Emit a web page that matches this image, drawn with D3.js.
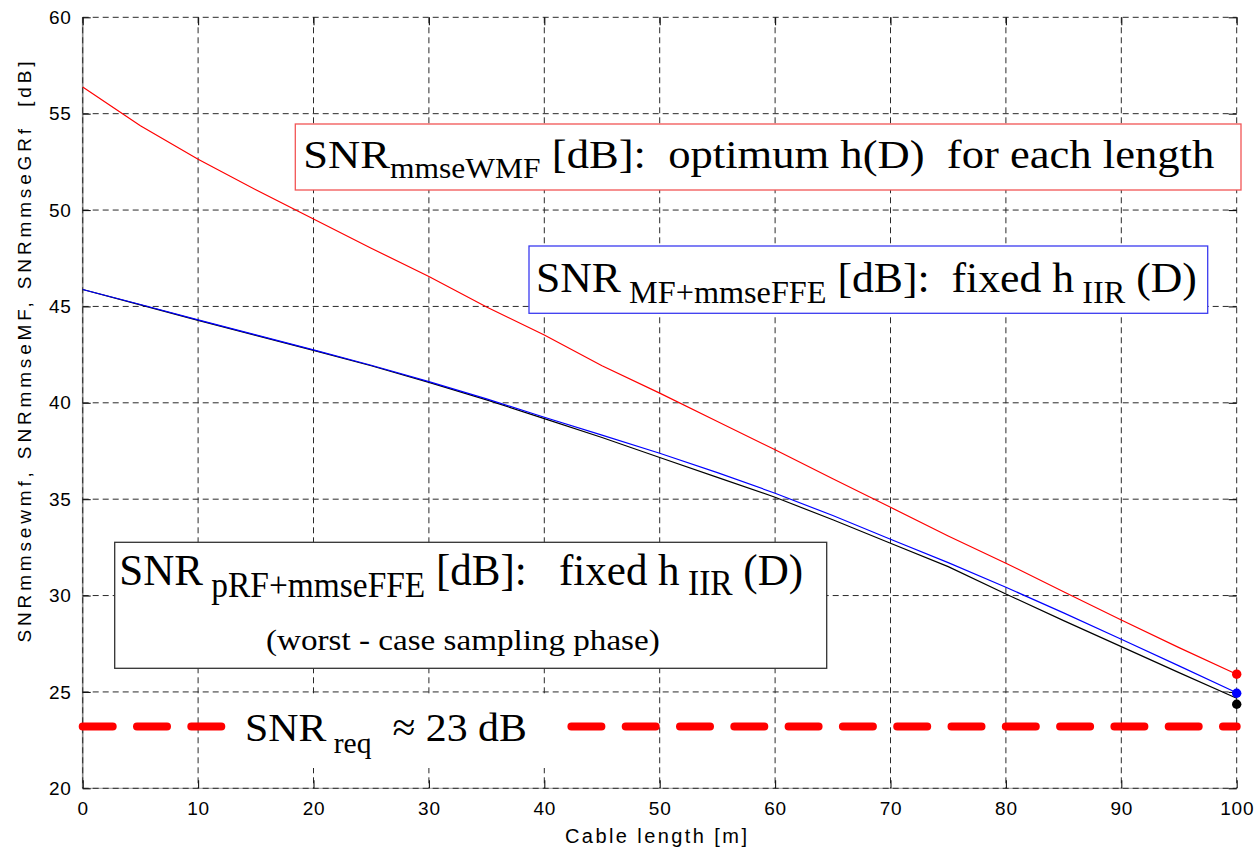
<!DOCTYPE html>
<html>
<head>
<meta charset="utf-8">
<script src="https://cdn.jsdelivr.net/npm/d3@7"></script>
<style>
  html, body { margin: 0; padding: 0; background: #fff; }
  svg { display: block; }
</style>
</head>
<body>
<svg id="chart" width="1255" height="850"></svg>
<script>
// ---------------- data ----------------
const cableLength = [0, 5, 10, 15, 20, 25, 30, 35, 40, 45, 50, 55, 60, 65, 70, 75, 80, 85, 90, 95, 100];
const snrMmseWMF  = [56.38, 54.37, 52.64, 51.05, 49.54, 48.02, 46.55, 44.97, 43.52, 41.92, 40.50, 39.03, 37.56, 36.06, 34.58, 33.09, 31.68, 30.20, 28.73, 27.30, 25.92];
const snrMfFFE    = [45.88, 45.10, 44.30, 43.52, 42.75, 41.95, 41.10, 40.20, 39.25, 38.32, 37.38, 36.38, 35.31, 34.15, 32.92, 31.71, 30.43, 29.10, 27.73, 26.35, 24.96];
const snrPrfFFE   = [45.88, 45.08, 44.28, 43.50, 42.72, 41.92, 41.06, 40.15, 39.18, 38.20, 37.16, 36.13, 35.10, 33.93, 32.71, 31.50, 30.08, 28.70, 27.35, 26.00, 24.67];
const endDotX     = [100, 100, 100];
const endDotY     = [25.92, 24.93, 24.36];
const seriesColors = ["#ff0000", "#0000ff", "#000000"];
const snrRequired = 23.2;
const xTicks = [0, 10, 20, 30, 40, 50, 60, 70, 80, 90, 100];
const yTicks = [20, 25, 30, 35, 40, 45, 50, 55, 60];
const xTitle = "Cable length [m]";
const yTitle = "SNRmmsewmf, SNRmmseMF, SNRmmseGRf  [dB]";

// ---------------- setup ----------------
const svg = d3.select("#chart");
const x = d3.scaleLinear().domain([0, 100]).range([82.7, 1236.7]);
const y = d3.scaleLinear().domain([20, 60]).range([788.3, 17.3]);
const sans = "'Liberation Sans', Arial, sans-serif";
const serif = "'Liberation Serif', 'Times New Roman', serif";

// left / bottom axis base lines
svg.append("line")
  .attr("x1", x(0)).attr("x2", x(0)).attr("y1", y(20)).attr("y2", y(60))
  .attr("stroke", "#8a8a8a").attr("stroke-width", 1.6);
svg.append("line")
  .attr("x1", x(0)).attr("x2", x(100)).attr("y1", y(20)).attr("y2", y(20))
  .attr("stroke", "#b0b0b0").attr("stroke-width", 1.2);

// grid
const grid = svg.append("g").attr("stroke", "#2a2a2a").attr("stroke-width", 1)
  .attr("stroke-dasharray", "6,4").attr("fill", "none");
grid.selectAll("line.v").data(xTicks).join("line").attr("class", "v")
  .attr("x1", d => x(d)).attr("x2", d => x(d)).attr("y1", y(60)).attr("y2", y(20));
grid.selectAll("line.h").data(yTicks).join("line").attr("class", "h")
  .attr("x1", x(0)).attr("x2", x(100)).attr("y1", d => y(d)).attr("y2", d => y(d));

// axes with inward ticks
function styleAxis(g) {
  g.select(".domain").remove();
  g.selectAll(".tick line").attr("stroke", "#111").attr("stroke-width", 1.1);
  g.selectAll("text").attr("font-family", sans).attr("font-size", 19).attr("fill", "#000")
    .attr("letter-spacing", 0.8);
}
svg.append("g").attr("transform", `translate(0,${y(20)})`)
  .call(d3.axisBottom(x).tickValues(xTicks).tickSize(-8).tickPadding(10))
  .call(styleAxis)
  .call(g => g.selectAll("text").attr("dy", null).attr("y", 26.7));
svg.append("g").attr("transform", `translate(${x(0)},0)`)
  .call(d3.axisLeft(y).tickValues(yTicks).tickSize(-8).tickPadding(11))
  .call(styleAxis);
svg.append("g").attr("transform", `translate(0,${y(60)})`)
  .call(d3.axisTop(x).tickValues(xTicks).tickSize(-8).tickFormat(""))
  .call(styleAxis);
svg.append("g").attr("transform", `translate(${x(100)},0)`)
  .call(d3.axisRight(y).tickValues(yTicks).tickSize(-8).tickFormat(""))
  .call(styleAxis);

// axis titles
svg.append("text").attr("x", 656).attr("y", 843.3).attr("text-anchor", "middle")
  .attr("font-family", sans).attr("font-size", 20)
  .attr("textLength", 182).attr("lengthAdjust", "spacing").text(xTitle);
svg.append("text").attr("transform", "translate(31,352) rotate(-90)").attr("text-anchor", "middle")
  .attr("font-family", sans).attr("font-size", 19).style("white-space", "pre")
  .attr("textLength", 581).attr("lengthAdjust", "spacing").text(yTitle);

// series lines
const series = [snrMmseWMF, snrMfFFE, snrPrfFFE];
const line = d3.line().x((d, i) => x(cableLength[i])).y(d => y(d));
svg.append("g").selectAll("path").data([series[2], series[1], series[0]]).join("path")
  .attr("d", line).attr("fill", "none")
  .attr("stroke", (d, i) => seriesColors[2 - i]).attr("stroke-width", 1.2);

// end dots
svg.append("g").selectAll("circle").data(endDotY).join("circle")
  .attr("cx", (d, i) => x(endDotX[i])).attr("cy", d => y(d)).attr("r", 4.7)
  .attr("fill", (d, i) => seriesColors[i]);

// required SNR dashed line
svg.append("line")
  .attr("x1", x(0)).attr("x2", x(100)).attr("y1", y(snrRequired)).attr("y2", y(snrRequired))
  .attr("stroke", "#ff0000").attr("stroke-width", 8).attr("stroke-linecap", "round")
  .attr("stroke-dasharray", "30,24.3");

// ---------------- annotations ----------------
function richText(parts, x0, baseline, targetWidth) {
  const g = svg.append("g");
  const t = g.append("text").attr("font-family", serif).attr("fill", "#000")
    .style("white-space", "pre").attr("x", 0).attr("y", 0);
  let cur = 0;
  parts.forEach(p => {
    const ts = t.append("tspan").attr("font-size", p.size).text(p.t);
    const shift = (p.off || 0) - cur;
    if (shift !== 0) ts.attr("dy", shift);
    cur = p.off || 0;
  });
  const w = t.node().getComputedTextLength();
  const sx = targetWidth / w;
  g.attr("transform", `translate(${x0},${baseline}) scale(${sx},1)`);
  return g;
}
function box(x0, y0, x1, y1, color) {
  svg.append("rect").attr("x", x0).attr("y", y0).attr("width", x1 - x0).attr("height", y1 - y0)
    .attr("fill", "#fff").attr("stroke", color).attr("stroke-width", 1.3);
}

// red box
box(295.3, 124, 1241, 190, "#f25555");
richText([
  { t: "SNR", size: 41 },
  { t: "mmseWMF", size: 29, off: 10 },
  { t: " [dB]:  optimum h(D)  for each length", size: 41, off: 0 }
], 303.3, 168.3, 911);

// blue box
box(529, 246, 1207.7, 313.3, "#3b3bf0");
richText([
  { t: "SNR", size: 42 },
  { t: " MF+mmseFFE", size: 31, off: 11 },
  { t: " [dB]:  fixed h", size: 42, off: 0 },
  { t: " IIR", size: 31, off: 11 },
  { t: " (D)", size: 42, off: 0 }
], 536, 291.7, 661);

// black box
box(114.7, 542.3, 826.7, 668.3, "#333");
richText([
  { t: "SNR", size: 45 },
  { t: " pRF+mmseFFE", size: 35, off: 12 },
  { t: " [dB]:   fixed h", size: 45, off: 0 },
  { t: " IIR", size: 35, off: 10 },
  { t: " (D)", size: 45, off: 0 }
], 119.3, 584.5, 684);
richText([
  { t: "(worst - case sampling phase)", size: 29 }
], 266, 650, 394);

// required SNR label
svg.append("rect").attr("x", 228).attr("y", 697).attr("width", 334).attr("height", 71).attr("fill", "#fff");
richText([
  { t: "SNR", size: 41 },
  { t: " req", size: 29, off: 12 },
  { t: "  ≈ 23 dB", size: 41, off: 0 }
], 245, 740.7, 282);
</script>
</body>
</html>
